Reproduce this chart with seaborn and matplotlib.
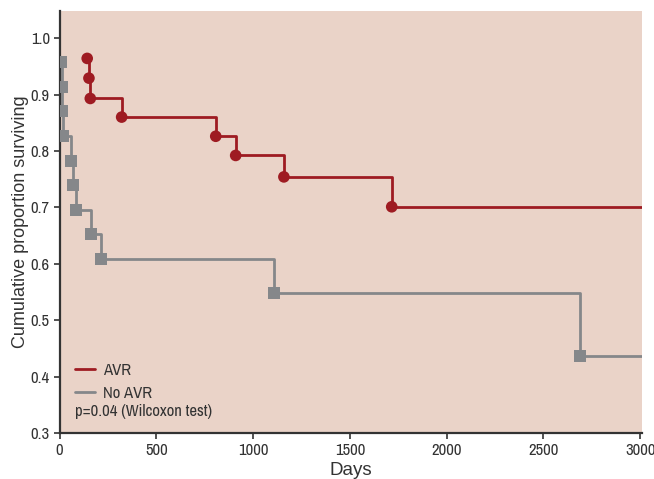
import numpy as np
import pandas as pd
import matplotlib
matplotlib.use("Agg")
import matplotlib.pyplot as plt
import matplotlib.font_manager as fm
import seaborn as sns
from matplotlib.lines import Line2D


# ==========================================
# DATA
# ==========================================

avr_days = [143, 152, 159, 321, 807, 910, 1159, 1716]
avr_surv = [0.964, 0.929, 0.893, 0.860, 0.826, 0.792, 0.754, 0.701]

noavr_days = [10, 12, 14, 16, 57, 72, 86, 164, 212, 1107, 2690]
noavr_surv = [0.957, 0.913, 0.870, 0.826, 0.783, 0.739, 0.696, 0.652, 0.609, 0.548, 0.436]

end_day = 3010

x_ticks = [0, 500, 1000, 1500, 2000, 2500, 3000]
y_ticks = [0.3, 0.4, 0.5, 0.6, 0.7, 0.8, 0.9, 1.0]

RED = "#9e1b22"
GREY = "#85878a"
BG = "#ead3c8"
INK = "#333333"


# ==========================================
# FONTS (look for a condensed face if there is one)
# ==========================================

names = sorted({f.name for f in fm.fontManager.ttflist})
narrow = [n for n in names if "Narrow" in n or "Condensed" in n]
NARROW = [narrow[0], "Liberation Sans", "DejaVu Sans"] if narrow else ["Liberation Sans", "DejaVu Sans"]
PLAIN = ["Liberation Sans", "DejaVu Sans"]


# ==========================================
# BUILD TABLES
# ==========================================

events = pd.DataFrame({
    "days": avr_days + noavr_days,
    "surv": avr_surv + noavr_surv,
    "group": ["AVR"] * len(avr_days) + ["No AVR"] * len(noavr_days),
})

curves = pd.concat([
    events[events.group == "AVR"],
    pd.DataFrame({"days": [end_day], "surv": [avr_surv[-1]], "group": ["AVR"]}),
    events[events.group == "No AVR"],
    pd.DataFrame({"days": [end_day], "surv": [noavr_surv[-1]], "group": ["No AVR"]}),
], ignore_index=True)


# ==========================================
# PLOT
# ==========================================

sns.set_style("ticks")
plt.rcParams["font.family"] = NARROW

fig = plt.figure(figsize=(6.54, 4.79), dpi=100)
ax = fig.add_axes([0.091, 0.096, 0.891, 0.881])
ax.set_facecolor(BG)

palette = {"AVR": RED, "No AVR": GREY}

for grp, sub in curves.groupby("group"):
    sns.lineplot(
        data=sub, x="days", y="surv", color=palette[grp],
        drawstyle="steps-post", linewidth=2.0, sort=False,
        estimator=None, ax=ax, legend=False
    )

sns.scatterplot(
    data=events[events.group == "AVR"], x="days", y="surv",
    color=RED, marker="o", s=70, edgecolor="none", ax=ax, zorder=3,
    legend=False
)
sns.scatterplot(
    data=events[events.group == "No AVR"], x="days", y="surv",
    color=GREY, marker="s", s=75, edgecolor="none", ax=ax, zorder=3,
    legend=False
)

ax.set_xlim(0, end_day)
ax.set_ylim(0.3, 1.048)
ax.set_xticks(x_ticks)
ax.set_yticks(y_ticks)
ax.set_yticklabels([f"{v:.1f}" for v in y_ticks])
tick_size = 12 if narrow else 10
ax.tick_params(labelsize=tick_size, colors=INK, length=4, width=1.2, pad=3)

for side in ["top", "right"]:
    ax.spines[side].set_visible(False)
for side in ["left", "bottom"]:
    ax.spines[side].set_color(INK)
    ax.spines[side].set_linewidth(1.6)

ax.set_xlabel("Days", fontsize=13.5, family=PLAIN, color=INK, labelpad=3)
ax.set_ylabel("Cumulative proportion surviving", fontsize=13,
              family=PLAIN, color=INK, labelpad=1)

handles = [
    Line2D([0], [0], color=RED, linewidth=2.0),
    Line2D([0], [0], color=GREY, linewidth=2.0),
]
leg = ax.legend(handles, ["AVR", "No AVR"], loc="lower left",
                bbox_to_anchor=(0.0, 0.04), frameon=False, fontsize=tick_size,
                handlelength=1.2, handletextpad=0.5, labelspacing=0.5)
for t in leg.get_texts():
    t.set_color(INK)

ax.text(0.027, 0.04, "p=0.04 (Wilcoxon test)", transform=ax.transAxes,
        fontsize=tick_size, color=INK)

fig.savefig("out.png", dpi=100)
